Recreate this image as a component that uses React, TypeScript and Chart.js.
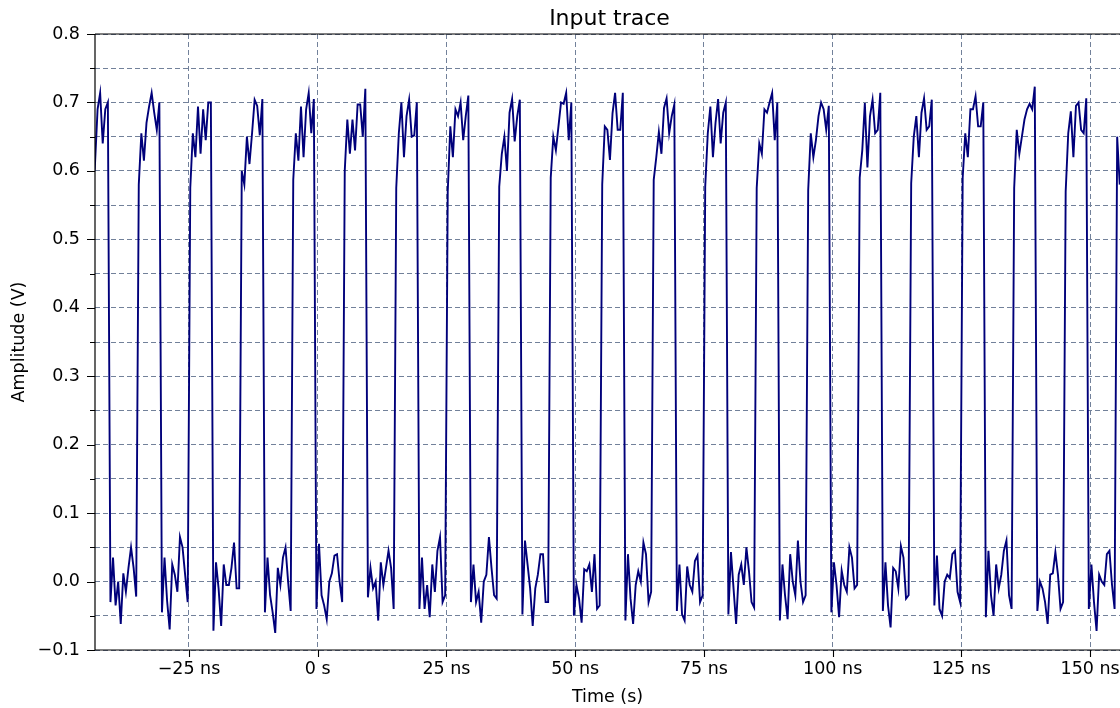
import React, { useEffect, useRef } from "react";
import { Chart, registerables } from "chart.js";

Chart.register(...registerables);

// Sampling of the trace: one sample every 0.5 ns; each 10 ns clock cycle
// starts at its rising edge (first high sample).
const SAMPLE_START_NS = -44.75;
const SAMPLE_STEP_NS = 0.5;
const CYCLE_NS = 10;

// High part of each cycle (V)
const cycleHigh: number[][] = [
  [0.59, 0.66, 0.63, 0.61, 0.69, 0.714, 0.64, 0.69, 0.7],
  [0.58, 0.655, 0.615, 0.67, 0.694, 0.714, 0.685, 0.66, 0.7],
  [0.575, 0.655, 0.62, 0.694, 0.625, 0.69, 0.645, 0.7, 0.7],
  [0.6, 0.58, 0.65, 0.61, 0.655, 0.704, 0.695, 0.652, 0.705],
  [0.587, 0.655, 0.615, 0.694, 0.62, 0.69, 0.714, 0.655, 0.705],
  [0.6, 0.675, 0.625, 0.675, 0.63, 0.697, 0.697, 0.65, 0.72],
  [0.575, 0.655, 0.7, 0.62, 0.68, 0.704, 0.65, 0.652, 0.7],
  [0.57, 0.665, 0.62, 0.69, 0.68, 0.7, 0.645, 0.68, 0.71],
  [0.577, 0.625, 0.65, 0.6, 0.685, 0.705, 0.643, 0.68, 0.704],
  [0.59, 0.65, 0.63, 0.665, 0.7, 0.698, 0.714, 0.645, 0.7],
  [0.58, 0.665, 0.66, 0.616, 0.684, 0.714, 0.66, 0.66, 0.714],
  [0.587, 0.62, 0.657, 0.625, 0.692, 0.706, 0.655, 0.68, 0.697],
  [0.577, 0.655, 0.694, 0.62, 0.67, 0.705, 0.64, 0.685, 0.7],
  [0.575, 0.64, 0.625, 0.69, 0.685, 0.7, 0.714, 0.645, 0.7],
  [0.572, 0.655, 0.62, 0.645, 0.68, 0.7, 0.69, 0.66, 0.695],
  [0.59, 0.63, 0.699, 0.605, 0.68, 0.704, 0.655, 0.66, 0.714],
  [0.582, 0.65, 0.68, 0.62, 0.685, 0.706, 0.66, 0.665, 0.704],
  [0.59, 0.655, 0.62, 0.69, 0.69, 0.709, 0.665, 0.665, 0.7],
  [0.575, 0.66, 0.625, 0.65, 0.675, 0.69, 0.698, 0.69, 0.723],
  [0.57, 0.655, 0.687, 0.62, 0.695, 0.7, 0.66, 0.655, 0.706],
  [0.65, 0.58],
];

// Low part of each cycle (V)
const cycleLow: number[][] = [
  [-0.03, 0.035, -0.035, 0.0, -0.062, 0.012, -0.015, 0.02, 0.05, 0.02, -0.022],
  [-0.045, 0.035, -0.028, -0.07, 0.025, 0.01, -0.015, 0.065, 0.05, 0.01, -0.03],
  [-0.072, 0.028, -0.01, -0.065, 0.025, -0.005, -0.005, 0.02, 0.057, -0.01, -0.01],
  [-0.045, 0.035, -0.02, -0.045, -0.075, 0.02, -0.005, 0.035, 0.05, 0.0, -0.043],
  [-0.04, 0.055, -0.02, -0.035, -0.055, 0.0, 0.012, 0.038, 0.04, 0.0, -0.03],
  [-0.023, 0.02, -0.01, 0.0, -0.057, 0.028, -0.005, 0.02, 0.045, 0.02, -0.04],
  [-0.04, 0.035, -0.04, -0.005, -0.052, 0.025, -0.015, 0.045, 0.065, -0.03, -0.02],
  [-0.03, 0.025, -0.03, -0.015, -0.06, 0.0, 0.01, 0.065, 0.02, -0.02, -0.025],
  [-0.048, 0.06, 0.025, -0.01, -0.065, -0.01, 0.01, 0.04, 0.04, -0.03, -0.03],
  [-0.05, -0.005, -0.025, -0.06, 0.018, 0.015, 0.025, -0.015, 0.04, -0.04, -0.035],
  [-0.057, 0.04, -0.025, -0.062, -0.005, 0.015, 0.0, 0.057, 0.04, -0.03, -0.015],
  [-0.043, 0.025, -0.048, -0.057, 0.022, -0.005, -0.015, 0.03, 0.038, -0.03, -0.02],
  [-0.048, 0.043, -0.01, -0.062, 0.01, 0.025, -0.005, 0.05, 0.015, -0.03, -0.038],
  [-0.057, 0.025, -0.02, -0.055, 0.04, 0.0, -0.02, 0.06, 0.0, -0.03, -0.02],
  [-0.045, 0.028, -0.005, -0.052, 0.016, -0.005, -0.015, 0.05, 0.035, -0.01, -0.005],
  [-0.043, 0.028, -0.035, -0.067, 0.02, 0.015, -0.01, 0.052, 0.035, -0.025, -0.02],
  [-0.035, 0.038, -0.04, -0.05, 0.0, 0.01, 0.005, 0.04, 0.045, -0.015, -0.03],
  [-0.052, 0.045, -0.02, -0.05, 0.025, -0.01, 0.01, 0.045, 0.06, -0.02, -0.04],
  [-0.043, 0.0, -0.01, -0.03, -0.062, 0.01, 0.012, 0.043, 0.01, -0.04, -0.03],
  [-0.04, 0.025, -0.03, -0.072, 0.01, 0.0, -0.005, 0.04, 0.045, -0.005, -0.04],
];

const xTickValues = [-25, 0, 25, 50, 75, 100, 125, 150];
const yMajorTicks = [-0.1, 0.0, 0.1, 0.2, 0.3, 0.4, 0.5, 0.6, 0.7, 0.8];
const yMinorTicks = [-0.05, 0.05, 0.15, 0.25, 0.35, 0.45, 0.55, 0.65, 0.75];

const X_MIN = -43.25;
const X_MAX = 155.8;
const Y_MIN = -0.1;
const Y_MAX = 0.8;

const TITLE = "Input trace";
const X_TITLE = "Time (s)";
const Y_TITLE = "Amplitude (V)";

const FONT = "DejaVu Sans";
const TRACE_COLOR = "#00007a";
const GRID_COLOR = "#72819a";

function buildPoints() {
  const pts: { x: number; y: number }[] = [];
  cycleHigh.forEach((row, k) => {
    const start = SAMPLE_START_NS + CYCLE_NS * k;
    row.forEach((v, j) => pts.push({ x: start + j * SAMPLE_STEP_NS, y: v }));
    const low = cycleLow[k];
    if (low) {
      low.forEach((v, m) =>
        pts.push({ x: start + (row.length + m) * SAMPLE_STEP_NS, y: v })
      );
    }
  });
  return pts;
}

const minus = (s: string) => s.replace("-", "\u2212");

const framePlugin = {
  id: "frameAndText",
  afterDraw(chart: any) {
    const { ctx, chartArea: a, scales } = chart;
    const xs = scales.x;
    const ys = scales.y;
    ctx.save();
    // spines
    ctx.strokeStyle = "#000";
    ctx.lineWidth = 1.2;
    ctx.beginPath();
    ctx.moveTo(a.left, a.top);
    ctx.lineTo(a.right + 2, a.top);
    ctx.moveTo(a.left, a.top);
    ctx.lineTo(a.left, a.bottom);
    ctx.moveTo(a.left, a.bottom);
    ctx.lineTo(a.right + 2, a.bottom);
    ctx.stroke();
    // tick marks
    ctx.lineWidth = 1.1;
    ctx.beginPath();
    yMajorTicks.forEach((v) => {
      const py = Math.round(ys.getPixelForValue(v)) + 0.5;
      ctx.moveTo(a.left - 8, py);
      ctx.lineTo(a.left, py);
    });
    yMinorTicks.forEach((v) => {
      const py = Math.round(ys.getPixelForValue(v)) + 0.5;
      ctx.moveTo(a.left - 5, py);
      ctx.lineTo(a.left, py);
    });
    xTickValues.forEach((v) => {
      const px = Math.round(xs.getPixelForValue(v)) + 0.5;
      ctx.moveTo(px, a.bottom);
      ctx.lineTo(px, a.bottom + 7);
    });
    ctx.stroke();
    // texts
    ctx.fillStyle = "#000";
    ctx.textAlign = "center";
    ctx.textBaseline = "alphabetic";
    ctx.font = `22px "${FONT}"`;
    ctx.fillText(TITLE, (a.left + a.right) / 2 + 2, 24.5);
    ctx.font = `17.5px "${FONT}"`;
    ctx.fillText(X_TITLE, (a.left + a.right) / 2, 702);
    ctx.translate(24, (a.top + a.bottom) / 2);
    ctx.rotate(-Math.PI / 2);
    ctx.fillText(Y_TITLE, 0, 0);
    ctx.restore();
  },
};

export default function App() {
  const canvasRef = useRef<HTMLCanvasElement | null>(null);

  useEffect(() => {
    const canvas = canvasRef.current;
    if (!canvas) return;
    const yGridValues = [...yMajorTicks, ...yMinorTicks].sort((p, q) => p - q);
    const chart = new Chart(canvas, {
      type: "line",
      data: {
        datasets: [
          {
            data: buildPoints(),
            borderColor: TRACE_COLOR,
            borderWidth: 1.9,
            pointRadius: 0,
            tension: 0,
            fill: false,
            clip: 0,
          } as any,
        ],
      },
      options: {
        responsive: false,
        animation: false,
        devicePixelRatio: 1,
        parsing: false,
        layout: { padding: { top: 34, right: 0, bottom: 0, left: 0 } },
        plugins: {
          legend: { display: false },
          title: { display: false },
          tooltip: { enabled: false },
        },
        scales: {
          x: {
            type: "linear",
            min: X_MIN,
            max: X_MAX,
            afterBuildTicks: (scale: any) => {
              scale.ticks = xTickValues.map((v) => ({ value: v }));
            },
            afterFit: (scale: any) => {
              scale.height = 58;
              scale.paddingLeft = 0;
              scale.paddingRight = 0;
              scale.paddingTop = 0;
              scale.paddingBottom = 0;
            },
            grid: {
              color: GRID_COLOR,
              lineWidth: 1,
              drawTicks: false,
            },
            border: { display: false, dash: [5, 3] },
            ticks: {
              autoSkip: false,
              maxRotation: 0,
              padding: 9,
              color: "#000",
              font: { family: FONT, size: 17.5 },
              callback: (value: any) => {
                const v = Number(value);
                if (v === 0) return "0 s";
                return minus(`${v} ns`);
              },
            },
          },
          y: {
            type: "linear",
            min: Y_MIN,
            max: Y_MAX,
            afterBuildTicks: (scale: any) => {
              scale.ticks = yGridValues.map((v) => ({ value: v }));
            },
            afterFit: (scale: any) => {
              scale.width = 95;
              scale.paddingLeft = 0;
              scale.paddingRight = 0;
              scale.paddingTop = 0;
              scale.paddingBottom = 0;
            },
            grid: {
              color: GRID_COLOR,
              lineWidth: 1,
              drawTicks: false,
            },
            border: { display: false, dash: [5, 3] },
            ticks: {
              autoSkip: false,
              padding: 15,
              color: "#000",
              font: { family: FONT, size: 17.5 },
              callback: (value: any) => {
                const v = Number(value);
                const isMajor = Math.abs(Math.round(v * 10) - v * 10) < 1e-6;
                return isMajor ? minus(v.toFixed(1)) : "";
              },
            },
          },
        },
      },
      plugins: [framePlugin],
    } as any);
    return () => chart.destroy();
  }, []);

  return (
    <div
      style={{
        position: "fixed",
        left: 0,
        top: 0,
        width: 1120,
        height: 708,
        background: "#fff",
      }}
    >
      <canvas
        ref={canvasRef}
        width={1120}
        height={708}
        style={{ display: "block", width: 1120, height: 708 }}
      />
    </div>
  );
}
